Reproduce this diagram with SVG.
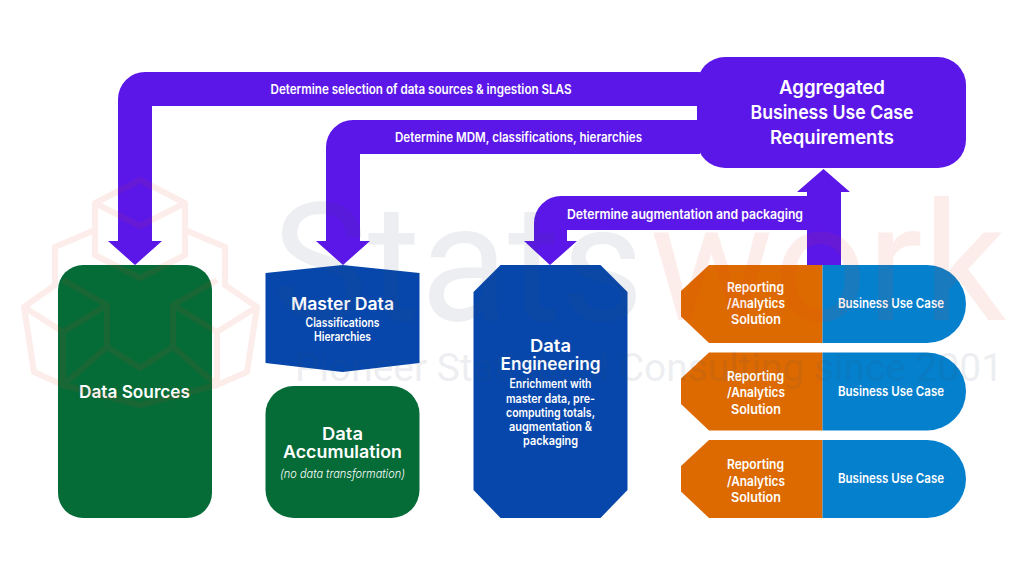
<svg xmlns="http://www.w3.org/2000/svg" width="1024" height="576" viewBox="0 0 1024 576">
<style>
text{font-family:"Inter","Open Sans","Liberation Sans",sans-serif;fill:#fff;font-weight:600;text-anchor:middle}
.h1{font-size:19px}.h2{font-size:17.500px}.s{font-size:12.500px}.l{font-size:13px}
.purple{fill:#5b17e8}.green{fill:#056b37}.blue{fill:#0747ab}.orange{fill:#dd6a00}.sky{fill:#0580cd}
.wm{font-family:"Roboto","Liberation Sans",sans-serif;font-weight:400;text-anchor:start}
</style>
<rect width="1024" height="576" fill="#fff"/>
<g id="connectors">
<path class="purple" d="M700 72H145a27 27 0 0 0-27 27V241H108L135 265 162 241H152V106H700Z"/>
<path class="purple" d="M700 120H353a27 27 0 0 0-27 27V241H316L343 265 370 241H360V154H700Z"/>
<path class="purple" d="M807 265V230H567V241H577L550 265 524 241H534V223a27 27 0 0 1 27-27H807V192H797L823.500 169 850 192H841V265Z"/>
<text class="l" x="421" y="94" textLength="301" lengthAdjust="spacingAndGlyphs">Determine selection of data sources &amp; ingestion SLAS</text>
<text class="l" x="518.500" y="142" textLength="247" lengthAdjust="spacingAndGlyphs">Determine MDM, classifications, hierarchies</text>
<text class="l" x="685" y="219" textLength="236" lengthAdjust="spacingAndGlyphs">Determine augmentation and packaging</text>
</g>
<g id="aggregated">
<rect class="purple" x="697" y="57" width="269" height="111" rx="28"/>
<text class="h1" x="832" y="94" textLength="106" lengthAdjust="spacingAndGlyphs">Aggregated</text>
<text class="h1" x="832" y="119" textLength="163" lengthAdjust="spacingAndGlyphs">Business Use Case</text>
<text class="h1" x="832" y="144" textLength="124" lengthAdjust="spacingAndGlyphs">Requirements</text>
</g>
<g id="data-sources">
<rect class="green" x="58" y="265" width="154" height="253" rx="25"/>
<text class="h2" x="134.500" y="398" textLength="111" lengthAdjust="spacingAndGlyphs">Data Sources</text>
</g>
<g id="master-data">
<path class="blue" d="M342.500 265 419.500 273V363L342.500 372 265.500 363V273Z"/>
<text class="h2" x="342.500" y="310" textLength="103" lengthAdjust="spacingAndGlyphs">Master Data</text>
<text class="s" x="342.500" y="327" textLength="74" lengthAdjust="spacingAndGlyphs">Classifications</text>
<text class="s" x="342.500" y="341" textLength="57" lengthAdjust="spacingAndGlyphs">Hierarchies</text>
</g>
<g id="data-accumulation">
<rect class="green" x="265.500" y="386" width="154" height="132" rx="28"/>
<text class="h2" x="342.500" y="440" textLength="41" lengthAdjust="spacingAndGlyphs">Data</text>
<text class="h2" x="342.500" y="458" textLength="119" lengthAdjust="spacingAndGlyphs">Accumulation</text>
<text class="s" x="342.500" y="478" style="font-weight:300;font-style:italic" textLength="125" lengthAdjust="spacingAndGlyphs">(no data transformation)</text>
</g>
<g id="data-engineering">
<path class="blue" d="M500.500 265H600.500L627.500 292V490L600.500 518H500.500L473.500 490V292Z"/>
<text class="h2" x="550.500" y="352" textLength="41" lengthAdjust="spacingAndGlyphs">Data</text>
<text class="h2" x="550.500" y="369.500" textLength="100" lengthAdjust="spacingAndGlyphs">Engineering</text>
<text class="s" x="550.500" y="388" textLength="82" lengthAdjust="spacingAndGlyphs">Enrichment with</text>
<text class="s" x="550.500" y="402.500" textLength="89" lengthAdjust="spacingAndGlyphs">master data, pre-</text>
<text class="s" x="550.500" y="417" textLength="89" lengthAdjust="spacingAndGlyphs">computing totals,</text>
<text class="s" x="550.500" y="431" textLength="83" lengthAdjust="spacingAndGlyphs">augmentation &amp;</text>
<text class="s" x="550.500" y="445" textLength="55" lengthAdjust="spacingAndGlyphs">packaging</text>
</g>
<g id="solution-1">
<path class="orange" d="M709 265H822.500V343H709L681 316.500V291Z"/>
<path class="sky" d="M822.500 265H927a39 39 0 0 1 0 78H822.500Z"/>
<text class="l" x="755.500" y="292" textLength="57" lengthAdjust="spacingAndGlyphs">Reporting</text>
<text class="l" x="756" y="308" textLength="58" lengthAdjust="spacingAndGlyphs">/Analytics</text>
<text class="l" x="756" y="324" textLength="50" lengthAdjust="spacingAndGlyphs">Solution</text>
<text class="l" x="891" y="308" textLength="106" lengthAdjust="spacingAndGlyphs">Business Use Case</text>
</g>
<g id="solution-2">
<path class="orange" d="M709 352.500H822.500V430.500H709L681 404V378.500Z"/>
<path class="sky" d="M822.500 352.500H927a39 39 0 0 1 0 78H822.500Z"/>
<text class="l" x="755.500" y="381" textLength="57" lengthAdjust="spacingAndGlyphs">Reporting</text>
<text class="l" x="756" y="397" textLength="58" lengthAdjust="spacingAndGlyphs">/Analytics</text>
<text class="l" x="756" y="414" textLength="50" lengthAdjust="spacingAndGlyphs">Solution</text>
<text class="l" x="891" y="396" textLength="106" lengthAdjust="spacingAndGlyphs">Business Use Case</text>
</g>
<g id="solution-3">
<path class="orange" d="M709 440H822.500V518H709L681 491.500V466Z"/>
<path class="sky" d="M822.500 440H927a39 39 0 0 1 0 78H822.500Z"/>
<text class="l" x="755.500" y="469" textLength="57" lengthAdjust="spacingAndGlyphs">Reporting</text>
<text class="l" x="756" y="485.500" textLength="58" lengthAdjust="spacingAndGlyphs">/Analytics</text>
<text class="l" x="756" y="502" textLength="50" lengthAdjust="spacingAndGlyphs">Solution</text>
<text class="l" x="891" y="483" textLength="106" lengthAdjust="spacingAndGlyphs">Business Use Case</text>
</g>
<g id="watermark" opacity="0.085">
<g fill="none" stroke="#e8402a" stroke-width="6" stroke-linejoin="round">
<path d="M140 180 185 203V255L140 278 95 255V203Z M95 203 140 226 185 203"/>
<path d="M95 230 55 247V285L24 307 34 372 63 385 107 347V305L63 280"/>
<path d="M185 230 225 247V285L257 307 247 372 217 385 173 347V305L217 280"/>
<path d="M24 307 63 332V385M107 305 63 332M257 307 217 332V385M173 305 217 332M107 347 140 368 173 347M63 385 140 405 217 385"/>
</g>
<text class="wm" x="272" y="320" font-size="165" style="fill:#3a4a66" textLength="372" lengthAdjust="spacingAndGlyphs">Stats</text>
<text class="wm" x="650" y="320" font-size="165" style="fill:#e8402a" textLength="356" lengthAdjust="spacingAndGlyphs">work</text>
<text class="wm" x="295" y="381" font-size="38" style="fill:#3a4a66" textLength="708" lengthAdjust="spacingAndGlyphs">Pioneer Statistical Consulting since 2001</text>
</g>
</svg>
